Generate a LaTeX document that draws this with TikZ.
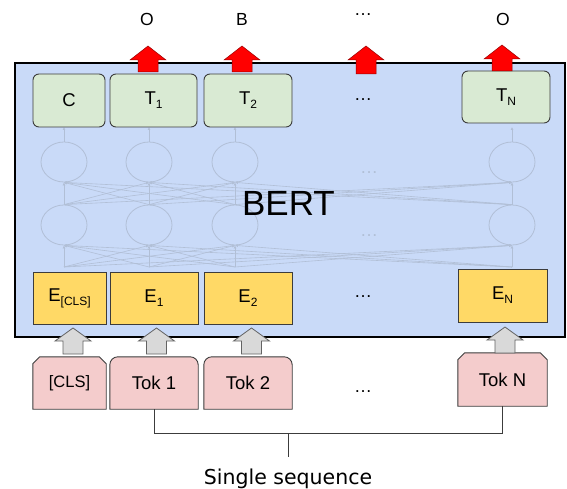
\documentclass[tikz,border=0pt]{standalone}
\usepackage{fontspec}
\setmainfont{Liberation Sans}
\newfontfamily\dejavu{DejaVu Sans}
\usepackage{tikz}
\usetikzlibrary{shapes.geometric,backgrounds,arrows.meta}
\definecolor{BertBlue}{HTML}{C9DAF8}
\definecolor{OutGreen}{HTML}{D9EAD3}
\definecolor{EmbYellow}{HTML}{FFD966}
\definecolor{TokPink}{HTML}{F4CCCC}
\definecolor{ArrowGray}{HTML}{D9D9D9}
\definecolor{EdgeGray}{HTML}{3C3C3C}
\definecolor{NetGray}{HTML}{B1BFD6}
\newcommand{\lowsub}[1]{\raisebox{-4pt}{\fontsize{12}{12}\selectfont #1}}
% block arrow pointing up: style, x, bottom, neck, tip
\newcommand{\upblock}[5]{%
  \filldraw[#1] (#2-10,#3) -- (#2+10,#3) -- (#2+10,#4) -- (#2+18,#4) -- (#2,#5)
    -- (#2-18,#4) -- (#2-10,#4) -- cycle;}
% token outlines
\newcommand{\tokround}[1]{%
  \filldraw[tokshape] (#1.south west) -- ([yshift=-8pt]#1.north west)
    arc[start angle=180, end angle=90, radius=8pt] -- ([xshift=-8pt]#1.north east)
    arc[start angle=90, end angle=0, radius=8pt] -- (#1.south east) -- cycle;}
\newcommand{\tokcut}[1]{%
  \filldraw[tokshape] (#1.south west) -- ([yshift=-7pt]#1.north west)
    -- ([xshift=7pt]#1.north west) -- ([xshift=-7pt]#1.north east)
    -- ([yshift=-7pt]#1.north east) -- (#1.south east) -- cycle;}
\tikzset{
  outnode/.style={
    draw=EdgeGray,fill=OutGreen,rounded corners=6pt,line width=0.9pt,
    minimum height=53pt,inner sep=0pt,
    font=\fontsize{18.5}{20}\selectfont
  },
  embnode/.style={
    draw=EdgeGray,fill=EmbYellow,line width=0.9pt,
    minimum height=52pt,inner sep=0pt,
    font=\fontsize{18.5}{20}\selectfont
  },
  toknode/.style={
    minimum height=52pt,inner sep=0pt,
    font=\fontsize{18.5}{20}\selectfont
  },
  tokshape/.style={draw=EdgeGray,fill=TokPink,line width=0.9pt},
  netcirc/.style={
    ellipse,draw=NetGray,line width=0.8pt,
    minimum width=46pt,minimum height=40pt,inner sep=0pt
  },
  netline/.style={draw=NetGray,line width=0.6pt,-{Latex[length=3pt,width=3pt]}},
  redblock/.style={fill=red,draw=red!60!black,line width=0.5pt},
  grayblock/.style={fill=ArrowGray,draw=EdgeGray!80,line width=0.8pt},
  toplabel/.style={font=\fontsize{17.5}{19}\selectfont},
  dotslabel/.style={font=\fontsize{18}{20}\selectfont},
}
\begin{document}
\begin{tikzpicture}[x=1pt,y=1pt]
  \useasboundingbox (0,0) rectangle (567,488);
  % BERT body
  \draw[line width=2.5pt,fill=BertBlue] (15,151) rectangle (565,425);
  % hidden layers
  \foreach \x [count=\i] in {64,149,235,512} {
    \node[netcirc] (u\i) at (\x,326) {};
    \node[netcirc] (l\i) at (\x,263) {};
    \coordinate (b\i) at (\x,221);
    \coordinate (h\i) at (\x,361);
  }
  \foreach \i in {1,...,4} {
    \draw[netline] (u\i.north) -- (h\i);
    \foreach \j in {1,...,4} {
      \draw[netline] (l\i.north) -- (u\j.south);
      \draw[netline] (b\i) -- (l\j.south);
    }
  }
  \node[dotslabel,text=NetGray] (nd1) at (369,315) {…};
  \node[dotslabel,text=NetGray] (nd2) at (369,252) {…};
  \node[font=\fontsize{35}{40}\selectfont] (bert) at (288.5,285) {BERT};
  % outputs
  \node[outnode,minimum width=72pt] (c) at (69,387.5) {C};
  \node[outnode,minimum width=87pt] (t1) at (153.5,387.5) {T\lowsub{1}};
  \node[outnode,minimum width=88pt] (t2) at (248,387.5) {T\lowsub{2}};
  \node[dotslabel] (od) at (363,388) {…};
  \node[outnode,minimum width=88pt,minimum height=52pt] (tn) at (506,391) {T\lowsub{N}};
  % embeddings
  \node[embnode,minimum width=73pt] (ecls) at (69.5,190) {E\lowsub{[CLS]}};
  \node[embnode,minimum width=88pt] (e1) at (154,190) {E\lowsub{1}};
  \node[embnode,minimum width=88pt] (e2) at (248,190) {E\lowsub{2}};
  \node[dotslabel] (ed) at (363,191) {…};
  \node[embnode,minimum width=89pt,minimum height=53pt] (en) at (502.5,192.5) {E\lowsub{N}};
  % input tokens
  \node[toknode,minimum width=73pt,font=\fontsize{16.5}{18}\selectfont] (tcls) at (69.5,105) {[CLS]};
  \node[toknode,minimum width=88pt] (tok1) at (154,105) {Tok 1};
  \node[toknode,minimum width=88pt] (tok2) at (248,105) {Tok 2};
  \node[dotslabel] (td) at (363,96) {…};
  \node[toknode,minimum width=89pt,minimum height=53pt] (tokn) at (502.5,108.5) {Tok N};
  \begin{scope}[on background layer]
    \tokcut{tcls}
    \tokround{tok1}
    \tokround{tok2}
    \tokcut{tokn}
  \end{scope}
  % output labels
  \node[toplabel] (lo1) at (147,469) {O};
  \node[toplabel] (lb2) at (242,469) {B};
  \node[dotslabel] (ldots) at (363,473) {…};
  \node[toplabel] (lon) at (503,469) {O};
  % block arrows
  \upblock{redblock}{148}{416}{428}{442}
  \upblock{redblock}{242}{416}{428}{442}
  \upblock{redblock}{366}{414}{428}{442}
  \upblock{redblock}{502}{417}{429}{443}
  \upblock{grayblock}{73}{134}{147}{160}
  \upblock{grayblock}{156.5}{134}{147}{160}
  \upblock{grayblock}{251.5}{134}{147}{160}
  \upblock{grayblock}{505}{135}{148}{161}
  % sequence bracket
  \node[font=\dejavu\fontsize{20.5}{24}\selectfont,anchor=base] (seq) at (288,4) {Single sequence};
  \coordinate (br) at (288,55);
  \draw[draw=EdgeGray,line width=0.9pt] (tok1.south) -- (tok1.south |- br) -- (tokn.south |- br) -- (tokn.south);
  \draw[draw=EdgeGray,line width=0.9pt] (br) -- (288,31);
\end{tikzpicture}
\end{document}
